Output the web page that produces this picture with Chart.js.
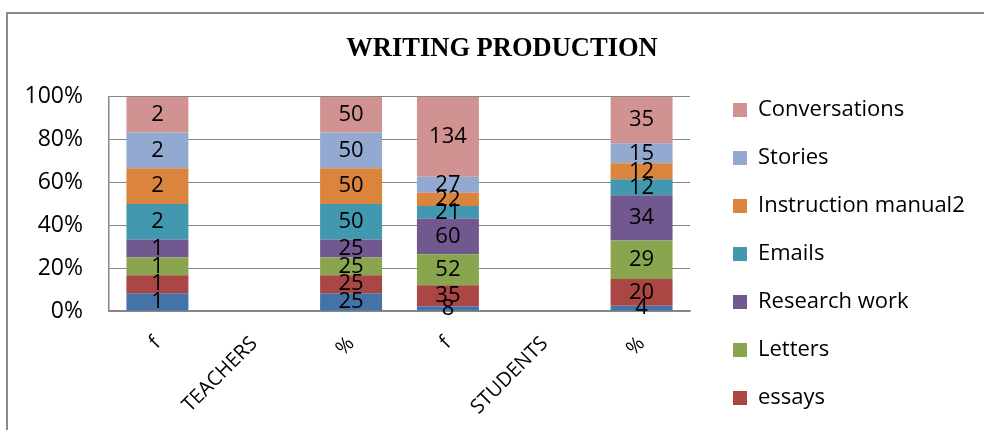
<!DOCTYPE html>
<html><head><meta charset="utf-8">
<script src="https://cdn.jsdelivr.net/npm/chart.js@4/dist/chart.umd.min.js"></script>
<style>
html,body{margin:0;padding:0;background:#fff;}
#wrap{position:relative;width:984px;height:430px;overflow:hidden;background:#fff;}
#frame{position:absolute;left:6px;top:12px;width:1000px;height:500px;border-left:2px solid #8a8a8a;border-top:2px solid #8a8a8a;pointer-events:none;}
canvas{position:absolute;left:0;top:0;}
</style></head><body>
<div id="wrap"><canvas id="c" width="984" height="430"></canvas><div id="frame"></div></div>
<script>
// ---- data ----
const categories = ['f', 'TEACHERS', '%', 'f', 'STUDENTS', '%'];
const yTickLabels = ['0%', '20%', '40%', '60%', '80%', '100%'];

const other              = [1, null, 25,   8, null,  4];
const essays             = [1, null, 25,  35, null, 20];
const letters            = [1, null, 25,  52, null, 29];
const researchWork       = [1, null, 25,  60, null, 34];
const emails             = [2, null, 50,  21, null, 12];
const instructionManual2 = [2, null, 50,  22, null, 12];
const stories            = [2, null, 50,  27, null, 15];
const conversations      = [2, null, 50, 134, null, 35];

const seriesNames  = ['Other', 'essays', 'Letters', 'Research work', 'Emails', 'Instruction manual2', 'Stories', 'Conversations'];
const seriesValues = [other, essays, letters, researchWork, emails, instructionManual2, stories, conversations];
const seriesColors = ['#4572A7', '#AA4643', '#89A54E', '#71588F', '#4198AF', '#DB843D', '#93A9CF', '#D19392'];

// 100% stacked: convert each value to its share of the category total
const totals = categories.map((_, i) => seriesValues.reduce((s, arr) => s + (arr[i] || 0), 0));
const datasets = seriesNames.map((name, k) => ({
  label: name,
  rawValues: seriesValues[k],
  data: seriesValues[k].map((v, i) => v == null ? null : v / totals[i] * 100),
  backgroundColor: seriesColors[k],
  borderWidth: 0,
  barPercentage: 0.64,
  categoryPercentage: 1.0
}));

// value labels centred in each stacked segment
const valueLabels = {
  id: 'valueLabels',
  afterDatasetsDraw(chart) {
    const ctx = chart.ctx;
    ctx.save();
    ctx.font = '22px "Open Sans"';
    ctx.fillStyle = '#000';
    ctx.textAlign = 'center';
    ctx.textBaseline = 'middle';
    chart.data.datasets.forEach((ds, di) => {
      const meta = chart.getDatasetMeta(di);
      meta.data.forEach((el, i) => {
        const raw = ds.rawValues[i];
        if (raw == null) return;
        const p = el.getProps(['x', 'y', 'base'], true);
        ctx.fillText(String(raw), p.x, (p.y + p.base) / 2);
      });
    });
    ctx.restore();
  }
};

// let the legend use the full space right of the plot (with a small gap)
const legendPlacement = {
  id: 'legendPlacement',
  afterLayout(chart) {
    const lg = chart.legend;
    if (!lg) return;
    lg.left = chart.chartArea.right + 17;
    lg.right = chart.width;
    lg.width = lg.right - lg.left;
  }
};

const grey = '#868686';
new Chart(document.getElementById('c'), {
  type: 'bar',
  data: { labels: categories, datasets },
  plugins: [valueLabels, legendPlacement],
  options: {
    responsive: false,
    animation: false,
    devicePixelRatio: 1,
    layout: { padding: { left: 20, right: 0, top: 0, bottom: -5 } },
    plugins: {
      title: {
        display: true,
        text: 'WRITING PRODUCTION',
        color: '#000',
        font: { family: 'Liberation Serif', size: 26.5, weight: 'bold', lineHeight: 1.2 },
        padding: { top: 33, bottom: 32 }
      },
      legend: {
        position: 'right',
        align: 'end',
        reverse: true,
        labels: {
          color: '#000',
          font: { family: 'Open Sans', size: 22 },
          boxWidth: 14,
          boxHeight: 14,
          padding: 26,
          filter: (item) => item.text !== 'Other'
        }
      },
      tooltip: { enabled: false }
    },
    scales: {
      x: {
        stacked: true,
        grid: { display: false },
        border: { display: true, color: grey, width: 1.5 },
        ticks: {
          color: '#000',
          font: { family: 'Open Sans', size: 20 },
          minRotation: 45, maxRotation: 45,
          autoSkip: false,
          padding: 13
        },
        afterFit: (s) => { s.height = 124; }
      },
      y: {
        stacked: true,
        min: 0, max: 100,
        ticks: {
          stepSize: 20,
          color: '#000',
          font: { family: 'Open Sans', size: 23 },
          padding: 26,
          callback: (v) => yTickLabels[Math.round(v / 20)]
        },
        grid: { color: grey, lineWidth: 1, drawTicks: false },
        border: { display: true, color: grey, width: 1.5 },
        afterFit: (s) => { s.width = 89; }
      },
      gap: {
        type: 'linear',
        position: 'right',
        display: false,
        afterFit: (s) => { s.width = 53; }
      }
    }
  }
});
</script>
</body></html>
